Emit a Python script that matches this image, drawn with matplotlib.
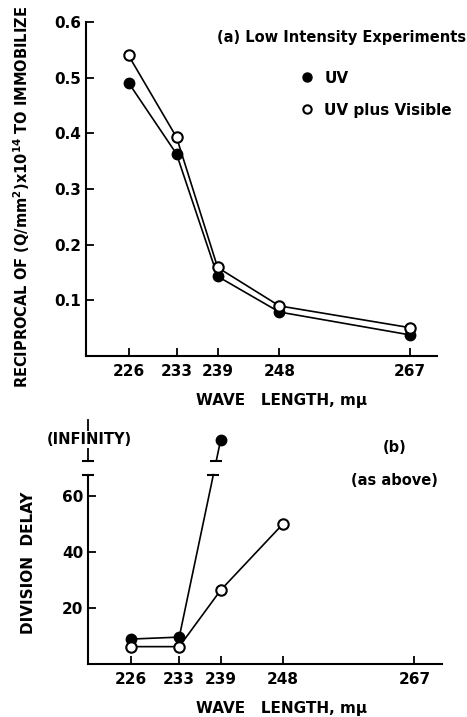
import numpy as np
import matplotlib
matplotlib.use('Agg')
import matplotlib.pyplot as plt
from matplotlib.lines import Line2D
from matplotlib.transforms import blended_transform_factory

plt.rcParams['font.family'] = ['DejaVu Sans']
plt.rcParams['font.weight'] = 'bold'
plt.rcParams['axes.labelweight'] = 'bold'
plt.rcParams['mathtext.default'] = 'bf'

# (a) reciprocal of dose to immobilize
wavelengths = [226, 233, 239, 248, 267]
recip_uv = [0.491, 0.363, 0.143, 0.079, 0.038]
recip_uv_vis = [0.540, 0.393, 0.159, 0.090, 0.051]

# (b) division delay; UV at 239 goes to "infinity"
delay_wl_uv = [226, 233]
delay_uv = [8.8, 9.5]
inf_wl = 239
delay_wl_vis = [226, 233, 239, 248]
delay_uv_vis = [6.1, 6.1, 26.3, 49.9]

top_ticks = [0.1, 0.2, 0.3, 0.4, 0.5, 0.6]
top_ticklabels = ['0.1', '0.2', '0.3', '0.4', '0.5', '0.6']
bot_ticks = [20, 40, 60]

INF_Y = 80.0
BREAK_LO, BREAK_HI = 67.5, 72.5
YTOP = 87.0

lw = 1.2
ms = 7.5

fig = plt.figure(figsize=(4.67, 7.17), dpi=100)
ax1 = fig.add_axes([0.1842, 0.5035, 0.7516, 0.4658])
ax2 = fig.add_axes([0.1884, 0.0743, 0.758, 0.3399])

for ax, lx in ((ax1, 0.556), (ax2, 0.548)):
    ax.spines['top'].set_visible(False)
    ax.spines['right'].set_visible(False)
    for s in ('left', 'bottom'):
        ax.spines[s].set_linewidth(1.5)
    ax.set_xlim(219.8, 271)
    ax.set_xticks(wavelengths)
    ax.tick_params(axis='both', direction='in', length=6, width=1.3, labelsize=11)
    ax.tick_params(axis='x', pad=6)
    ax.set_xlabel('WAVE   LENGTH, m\u03bc', fontsize=11, labelpad=10, x=lx)

# ---- panel (a)
ax1.plot(wavelengths, recip_uv, color='k', lw=lw, marker='o', ms=ms,
         mfc='k', mec='k', zorder=3)
ax1.plot(wavelengths, recip_uv_vis, color='k', lw=lw, marker='o', ms=ms,
         mfc='white', mec='k', mew=1.5, zorder=3)
ax1.set_ylim(0, 0.6)
ax1.set_yticks(top_ticks)
ax1.set_yticklabels(top_ticklabels)
ax1.text(0.373, 0.955, '(a) Low Intensity Experiments', transform=ax1.transAxes,
         fontsize=10.5, ha='left', va='center')
handles = [Line2D([], [], ls='none', marker='o', ms=6.5, mfc='k', mec='k'),
           Line2D([], [], ls='none', marker='o', ms=6, mfc='white', mec='k', mew=1.5)]
ax1.legend(handles, ['UV', 'UV plus Visible'], loc='upper left',
           bbox_to_anchor=(0.57, 0.895), frameon=False, handlelength=1.0,
           handletextpad=0.6, labelspacing=1.1, fontsize=11)

fig.text(22 / 467, 1 - 197 / 717,
         'RECIPROCAL OF (Q/mm$^{2}$)x10$^{14}$ TO IMMOBILIZE',
         rotation=90, ha='center', va='center', fontsize=10.5)

# ---- panel (b)
ax2.set_ylim(0, YTOP)
ax2.set_yticks(bot_ticks)
ax2.spines['left'].set_bounds(0, BREAK_LO)

ax2.plot(delay_wl_vis, delay_uv_vis, color='k', lw=lw, marker='o', ms=ms,
         mfc='white', mec='k', mew=1.5, zorder=4)

# UV line heads to infinity at 239, broken between BREAK_LO and BREAK_HI
x_lo = np.interp(BREAK_LO, [delay_uv[-1], INF_Y], [delay_wl_uv[-1], inf_wl])
x_hi = np.interp(BREAK_HI, [delay_uv[-1], INF_Y], [delay_wl_uv[-1], inf_wl])
ax2.plot(delay_wl_uv + [x_lo], delay_uv + [BREAK_LO], color='k', lw=lw, zorder=3)
ax2.plot(delay_wl_uv, delay_uv, ls='none', marker='o', ms=ms, mfc='k', mec='k', zorder=3)
ax2.plot([x_hi, inf_wl], [BREAK_HI, INF_Y], color='k', lw=lw, zorder=3)
ax2.plot([inf_wl], [INF_Y], ls='none', marker='o', ms=ms, mfc='k', mec='k', zorder=3)
ax2.plot([x_lo, x_hi], [BREAK_LO, BREAK_HI], ls='none', marker='_', ms=9, mew=1.5,
         color='k', clip_on=False)

# broken y axis with infinity segment
tr = blended_transform_factory(ax2.transAxes, ax2.transData)
ax2.plot([0, 0], [BREAK_HI, YTOP], color='k', lw=1.3, transform=tr, clip_on=False)
ax2.plot([0, 0], [BREAK_LO, BREAK_HI], ls='none', marker='_', ms=9, mew=1.5,
         color='k', transform=tr, clip_on=False)
ax2.text(0.005, INF_Y, '(INFINITY)', transform=tr, ha='center', va='center',
         fontsize=10.5, zorder=5,
         bbox=dict(facecolor='white', edgecolor='none', pad=0.5))

ax2.text(0.867, 0.889, '(b)', transform=ax2.transAxes, ha='center', va='center',
         fontsize=10.5)
ax2.text(0.867, 0.750, '(as above)', transform=ax2.transAxes, ha='center',
         va='center', fontsize=10.5)

fig.text(29 / 467, 1 - 563 / 717, 'DIVISION  DELAY', rotation=90,
         ha='center', va='center', fontsize=11)

fig.savefig('out.png', dpi=100)
